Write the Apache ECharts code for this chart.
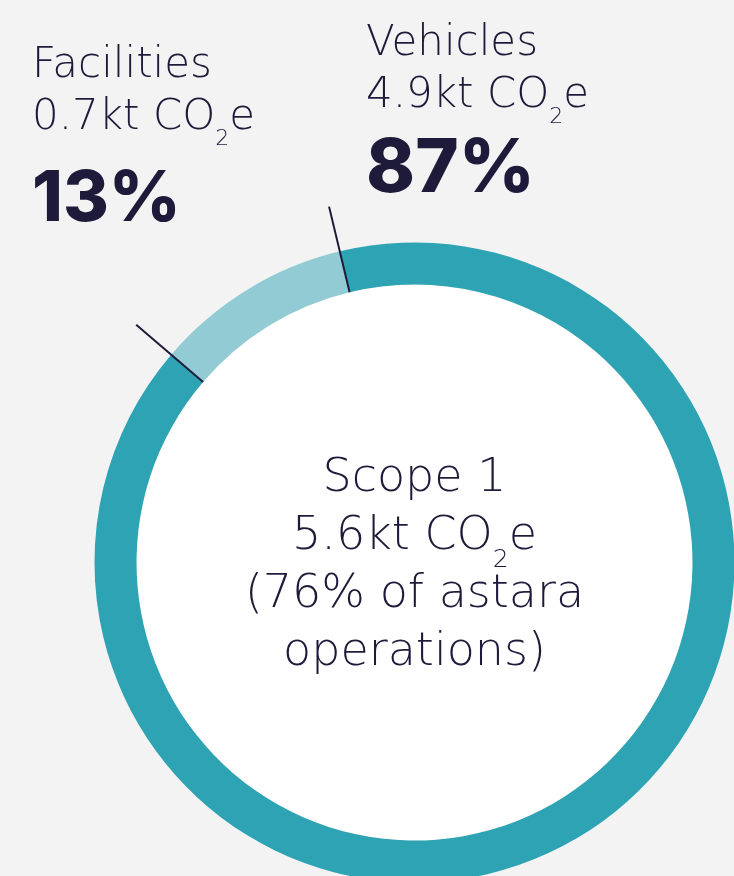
<!DOCTYPE html>
<html><head><meta charset="utf-8">
<script src="https://cdn.jsdelivr.net/npm/echarts@6/dist/echarts.min.js"></script>
<style>html,body{margin:0;padding:0;background:#f3f3f3}#c{width:734px;height:876px}</style>
</head><body><div id="c"></div>
<script>
// ---- data ----
const categories = ['Vehicles', 'Facilities'];
const emissionsKt = [4.9, 0.7];          // kt CO2e per category
const sharePct = [87, 13];               // stated share of Scope 1
const arcShare = [90, 10];               // share of the ring as drawn in the picture
const totalLabel = 'Scope 1';
const totalKt = 5.6;
const shareOfOperations = 76;
const company = 'astara';

// ---- style ----
const INK = '#1e1b3a';
const LIGHT = 'DejaVu Sans';
const BOLD = 'Inter';
const colors = ['#2ea3b3', '#93cbd4'];
const labelPos = [{x: 366, y: 18}, {x: 32, y: 40}];

const chart = echarts.init(document.getElementById('c'));

const ringData = categories.map((c, i) => ({
  name: c, value: arcShare[i], itemStyle: {color: colors[i]}
}));

// zero-width markers at the slice boundaries carry the leader lines
const tickData = [];
categories.forEach((c, i) => {
  tickData.push({name: c, value: arcShare[i], label: {show: false}, labelLine: {show: false}, itemStyle: {color: 'rgba(0,0,0,0)'}});
  tickData.push({name: c + '-edge', value: 0});
});

const centerText = [
  '{c|' + totalLabel + '}',
  '{c|' + totalKt + 'kt CO}{cs|2}{c|e}',
  '{c|(' + shareOfOperations + '% of ' + company + '}',
  '{c|operations)}'
].join('\n');

chart.setOption({
  backgroundColor: '#f3f3f3',
  animation: false,
  series: [
    {
      type: 'pie', silent: true, center: [414.5, 562.5], radius: [0, 278],
      itemStyle: {color: '#ffffff', borderWidth: 0},
      data: [{value: 1, name: 'total'}],
      label: {
        show: true, position: 'center', formatter: centerText,
        padding: [8, 0, 0, 0],
        rich: {
          c: {fontFamily: LIGHT, fontWeight: 200, fontSize: 46, lineHeight: 58, color: INK, align: 'center'},
          cs: {fontFamily: LIGHT, fontWeight: 200, fontSize: 25, lineHeight: 14, height: 12, verticalAlign: 'bottom', color: INK}
        }
      },
      labelLine: {show: false}
    },
    {
      type: 'pie', silent: true, center: [414.5, 562.5], radius: [278, 320],
      startAngle: 103.5, clockwise: true,
      itemStyle: {borderWidth: 0},
      avoidLabelOverlap: false,
      data: ringData,
      label: {
        show: true, position: 'outside', alignTo: 'none', width: 360, overflow: 'none',
        formatter: p => {
          const i = p.dataIndex;
          return '{t|' + categories[i] + '}\n{t|' + emissionsKt[i] + 'kt CO}{s|2}{t|e}\n{p' + i + '|' + sharePct[i] + '%}';
        },
        rich: {
          t: {fontFamily: LIGHT, fontWeight: 200, fontSize: 42, lineHeight: 52, color: INK},
          s: {fontFamily: LIGHT, fontWeight: 200, fontSize: 22, lineHeight: 13, height: 10, verticalAlign: 'bottom', color: INK},
          p0: {fontFamily: BOLD, fontWeight: 800, fontSize: 74, lineHeight: 96, color: INK},
          p1: {fontFamily: BOLD, fontWeight: 800, fontSize: 70, lineHeight: 111, color: INK}
        }
      },
      labelLine: {show: false},
      labelLayout: p => ({x: labelPos[p.dataIndex].x, y: labelPos[p.dataIndex].y, align: 'left', verticalAlign: 'top'})
    },
    {
      type: 'pie', silent: true, z: 3, center: [414.5, 562.5], radius: [277, 278],
      startAngle: 103.5, clockwise: true,
      avoidLabelOverlap: false, minShowLabelAngle: 0,
      itemStyle: {color: 'rgba(0,0,0,0)', borderWidth: 0},
      data: tickData,
      label: {show: true, position: 'outside', alignTo: 'none', formatter: ' ', fontSize: 1},
      labelLine: {show: true, length: 88, length2: 0, smooth: false, lineStyle: {color: INK, width: 2}}
    }
  ]
});
</script></body></html>
